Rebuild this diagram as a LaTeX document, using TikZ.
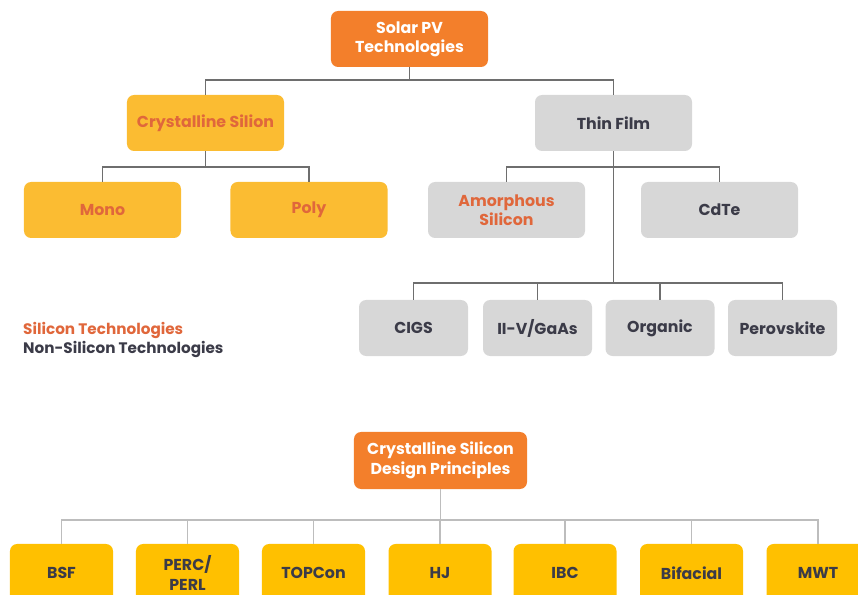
\documentclass[tikz,border=0pt]{standalone}
\usepackage{fontspec}
\setmainfont{Poppins}
\usepackage{xcolor}
\definecolor{pvorange}{HTML}{F37F2B}
\definecolor{pvamber}{HTML}{FBBC32}
\definecolor{pvyellow}{HTML}{FFC000}
\definecolor{pvgray}{HTML}{D7D7D7}
\definecolor{pvred}{HTML}{E0673B}
\definecolor{pvdark}{HTML}{3B3B48}
\definecolor{pvline}{HTML}{6E6E6E}
\definecolor{pvlight}{HTML}{BDBDBD}
\tikzset{
  box/.style={rounded corners=6pt, align=center, inner sep=2pt,
    font=\fontsize{13.5}{16.5}\selectfont\bfseries},
  rootbox/.style={box, fill=pvorange, text=white},
  sibox/.style={box, fill=pvamber, text=pvred, minimum width=4.71cm, minimum height=1.68cm},
  tfbox/.style={box, fill=pvgray, text=pvdark, minimum width=4.71cm, minimum height=1.68cm},
  smallbox/.style={tfbox, minimum width=3.27cm},
  designbox/.style={box, fill=pvyellow, text=pvdark, minimum width=3.09cm, minimum height=1.74cm},
  conn/.style={pvline, line width=1.4pt},
  lightconn/.style={pvlight, line width=1.4pt},
  legend/.style={anchor=west, inner sep=0pt, font=\fontsize{13}{15}\selectfont\bfseries}
}

\begin{document}
\begin{tikzpicture}[x=0.03cm, y=-0.03cm]
  \useasboundingbox (0,0) rectangle (858,595);
  \clip (0,0) rectangle (858,595);
  % top tree
  \node[rootbox, minimum width=4.71cm, minimum height=1.68cm] (solar) at (409.5,39) {Solar PV\\Technologies};
  \node[sibox] (cryst) at (205.5,123) {Crystalline Silion};
  \node[tfbox] (thin) at (613.5,123) {Thin Film};
  \node[sibox] (mono) at (102.5,210) {Mono};
  \node[sibox] (poly) at (309,210) {Poly};
  \node[tfbox, text=pvred] (amorph) at (506.5,210) {Amorphous\\Silicon};
  \node[tfbox] (cdte) at (719.5,210) {CdTe};
  \node[smallbox] (cigs) at (413.5,328) {CIGS};
  \node[smallbox] (gaas) at (537.5,328) {II-V/GaAs};
  \node[smallbox] (organic) at (660,328) {Organic};
  \node[smallbox] (perov) at (782.5,328) {Perovskite};
  \draw[conn] (solar.south) -- ++(0,13) -| (cryst.north);
  \draw[conn] (solar.south) -- ++(0,13) -| (thin.north);
  \draw[conn] (cryst.south) -- ++(0,16) -| (mono.north);
  \draw[conn] (cryst.south) -- ++(0,16) -| (poly.north);
  \draw[conn] (thin.south) -- ++(0,16) -| (amorph.north);
  \draw[conn] (thin.south) -- ++(0,16) -| (cdte.north);
  \foreach \n in {cigs,gaas,organic,perov}
    \draw[conn] (thin.south) -- ++(0,132) -| (\n.north);
  % legend
  \node[legend, text=pvred] (silleg) at (23,330) {Silicon Technologies};
  \node[legend, text=pvdark] (nonleg) at (23,349) {Non-Silicon Technologies};
  % design principles
  \node[rootbox, minimum width=5.19cm, minimum height=1.71cm] (design) at (440.5,460.5) {Crystalline Silicon\\Design Principles};
  \node[designbox] (bsf) at (61.5,573) {BSF};
  \node[designbox] (perc) at (187.5,573) {PERC/\\PERL};
  \node[designbox] (topcon) at (313.5,573) {TOPCon};
  \node[designbox] (hj) at (440,573) {HJ};
  \node[designbox] (ibc) at (565,573) {IBC};
  \node[designbox] (bifac) at (691.5,573) {Bifacial};
  \node[designbox] (mwt) at (818,573) {MWT};
  \foreach \n in {bsf,perc,topcon,hj,ibc,bifac,mwt}
    \draw[lightconn] (design.south) -- ++(0,31) -| (\n.north);
\end{tikzpicture}
\end{document}
